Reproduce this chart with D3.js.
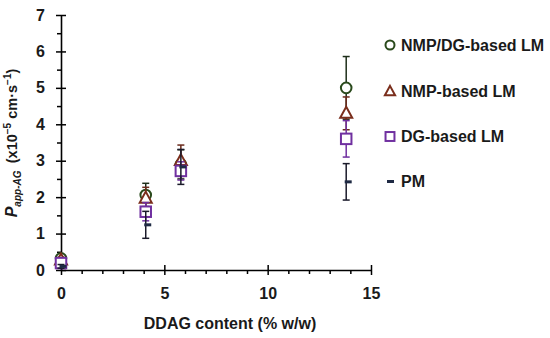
<!DOCTYPE html>
<html><head><meta charset="utf-8">
<script src="https://cdn.jsdelivr.net/npm/d3@7"></script>
<style>
body{margin:0;background:#fff;}
svg{display:block;font-family:"Liberation Sans",Arial,sans-serif;}
</style></head>
<body>
<svg id="c" width="550" height="338"></svg>
<script>
// ---- data ----
const seriesNames = ["NMP/DG-based LM", "NMP-based LM", "DG-based LM", "PM"];
const xValues = [0, 4.1, 5.8, 13.8];
const nmpdgY = [0.32, 2.06, 2.9, 5.0];
const nmpdgErr = [0.1, 0.32, 0.4, 0.86];
const nmpY = [0.27, 1.97, 3.0, 4.3];
const nmpErr = [0.08, 0.3, 0.43, 0.45];
const dgY = [0.19, 1.6, 2.72, 3.6];
const dgErr = [0.06, 0.25, 0.25, 0.5];
const pmY = [0.1, 1.24, 2.83, 2.42];
const pmErr = [0.05, 0.37, 0.48, 0.5];
const xTicks = [0, 5, 10, 15];
const yTicks = [0, 1, 2, 3, 4, 5, 6, 7];

const series = [
  {name: seriesNames[0], y: nmpdgY, e: nmpdgErr, shape: "circle", color: "#2a4a1c", bar: "#1e2e1a"},
  {name: seriesNames[1], y: nmpY, e: nmpErr, shape: "triangle", color: "#7a2e1c", bar: "#6a2a1c"},
  {name: seriesNames[2], y: dgY, e: dgErr, shape: "square", color: "#7030a0", bar: "#7030a0"},
  {name: seriesNames[3], y: pmY, e: pmErr, shape: "dash", color: "#1f2a44", bar: "#1a1a2a"}
];

const svg = d3.select("#c");
const m = {l: 61, t: 15, r: 179, b: 68};
const W = 550 - m.l - m.r, H = 338 - m.t - m.b;
const g = svg.append("g").attr("transform", `translate(${m.l},${m.t})`);
const x = d3.scaleLinear().domain([0, 15]).range([0, W]);
const y = d3.scaleLinear().domain([0, 7]).range([H, 0]);

// minor ticks
const xMinor = d3.range(0, 16, 1).filter(v => v % 5 !== 0);
const yMinor = d3.range(0.5, 7, 1);
g.append("g").attr("transform", `translate(0,${H})`)
  .call(d3.axisBottom(x).tickValues(xMinor).tickSize(4).tickFormat(""))
  .call(a => a.select(".domain").remove())
  .call(a => a.selectAll("line").attr("stroke", "#000").attr("stroke-width", 1.5));
g.append("g")
  .call(d3.axisLeft(y).tickValues(yMinor).tickSize(4).tickFormat(""))
  .call(a => a.select(".domain").remove())
  .call(a => a.selectAll("line").attr("stroke", "#000").attr("stroke-width", 1.5));

// major axes
const xa = g.append("g").attr("transform", `translate(0,${H})`)
  .call(d3.axisBottom(x).tickValues(xTicks).tickSizeInner(5).tickSizeOuter(0).tickPadding(13).tickFormat(d3.format("d")));
xa.selectAll(".tick line").attr("y1", -5);
const ya = g.append("g")
  .call(d3.axisLeft(y).tickValues(yTicks).tickSizeInner(5).tickSizeOuter(0).tickPadding(11).tickFormat(d3.format("d")));
ya.selectAll(".tick line").attr("x1", 5);
[xa, ya].forEach(a => {
  a.select(".domain").attr("stroke", "#000").attr("stroke-width", 1.6);
  a.selectAll(".tick line").attr("stroke", "#000").attr("stroke-width", 1.5);
  a.selectAll("text").attr("font-size", 16).attr("font-weight", "bold").attr("fill", "#1a1a1a")
    .style("font-family", "'Liberation Sans',Arial,sans-serif");
});

// markers
function drawMarker(sel, shape, color, s) {
  if (shape === "circle") {
    sel.append("circle").attr("r", 5.3 * s).attr("fill", "#fff").attr("stroke", color).attr("stroke-width", 2);
  } else if (shape === "triangle") {
    const h = 11 * s, w = 12 * s;
    sel.append("path").attr("d", `M0,${-h * 0.6}L${w / 2},${h * 0.4}L${-w / 2},${h * 0.4}Z`)
      .attr("fill", "#fff").attr("stroke", color).attr("stroke-width", 2).attr("stroke-linejoin", "miter");
  } else if (shape === "square") {
    const a = 10.5 * s;
    sel.append("rect").attr("x", -a / 2).attr("y", -a / 2).attr("width", a).attr("height", a)
      .attr("fill", "#fff").attr("stroke", color).attr("stroke-width", 2);
  } else {
    sel.append("rect").attr("x", -1.5).attr("y", -1.5).attr("width", 7).attr("height", 3).attr("fill", color);
  }
}

series.forEach(sr => {
  const sg = g.append("g");
  xValues.forEach((xv, i) => {
    const cx = x(xv), lo = y(sr.y[i] - sr.e[i]), hi = y(sr.y[i] + sr.e[i]);
    sg.append("line").attr("x1", cx).attr("x2", cx).attr("y1", lo).attr("y2", hi)
      .attr("stroke", sr.bar).attr("stroke-width", 1.5);
    [lo, hi].forEach(yy => sg.append("line").attr("x1", cx - 3.5).attr("x2", cx + 3.5)
      .attr("y1", yy).attr("y2", yy).attr("stroke", sr.bar).attr("stroke-width", 1.5));
  });
  xValues.forEach((xv, i) => {
    const mg = sg.append("g").attr("transform", `translate(${x(xv)},${y(sr.y[i])})`);
    drawMarker(mg, sr.shape, sr.color, 1);
  });
});

// legend
const legY = [45, 91.5, 136.5, 181.5];
series.forEach((sr, i) => {
  const lg = svg.append("g").attr("transform", `translate(390,${legY[i]})`);
  if (sr.shape === "dash") {
    lg.append("rect").attr("x", -3).attr("y", -1.5).attr("width", 7).attr("height", 3).attr("fill", sr.color);
  } else drawMarker(lg, sr.shape, sr.color, 0.85);
  lg.append("text").attr("x", 11).attr("y", 0).attr("dy", "0.36em")
    .attr("font-size", 16).attr("font-weight", "bold").attr("fill", "#1a1a1a").text(sr.name);
});

// x title
svg.append("text").attr("x", 230).attr("y", 323).attr("dy", "0.36em").attr("text-anchor", "middle")
  .attr("font-size", 16).attr("font-weight", "bold").attr("fill", "#1a1a1a").text("DDAG content (% w/w)");

// y title
const yt = svg.append("text").attr("transform", "translate(17,143) rotate(-90)")
  .attr("text-anchor", "middle").attr("font-size", 14.5).attr("font-weight", "bold").attr("fill", "#1a1a1a");
yt.append("tspan").attr("font-style", "italic").attr("font-size", 16).text("P");
yt.append("tspan").attr("font-style", "italic").attr("font-size", 10).attr("dy", 4).text("app-AG");
yt.append("tspan").attr("dy", -4).text("\u2002(x10");
yt.append("tspan").attr("font-size", 10).attr("dy", -6).text("\u22125");
yt.append("tspan").attr("dy", 6).text(" cm\u00b7s");
yt.append("tspan").attr("font-size", 10).attr("dy", -6).text("\u22121");
yt.append("tspan").attr("dy", 6).text(")");
</script>
</body></html>
